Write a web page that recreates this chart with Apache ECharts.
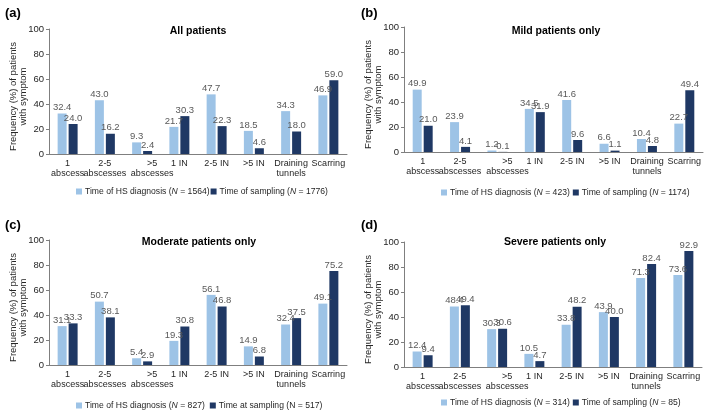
<!DOCTYPE html>
<html>
<head>
<meta charset="utf-8">
<script src="https://cdn.jsdelivr.net/npm/echarts@6/dist/echarts.min.js"></script>
<style>html,body{margin:0;padding:0;background:#fff}#c{width:709px;height:414px}</style>
</head>
<body>
<div id="c"></div>
<script>
var categories = ['1\nabscess', '2-5\nabscesses', '>5\nabscesses', '1 IN', '2-5 IN', '>5 IN', 'Draining\ntunnels', 'Scarring'];
var yTicks = [0, 20, 40, 60, 80, 100];

var panelLabels = ['(a)', '(b)', '(c)', '(d)'];
var panelTitles = ['All patients', 'Mild patients only', 'Moderate patients only', 'Severe patients only'];

var diagNames = ['Time of HS diagnosis (N = 1564)', 'Time of HS diagnosis (N = 423)', 'Time of HS diagnosis (N = 827)', 'Time of HS diagnosis (N = 314)'];
var sampNames = ['Time of sampling (N = 1776)', 'Time of sampling (N = 1174)', 'Time at sampling (N = 517)', 'Time of sampling (N = 85)'];
var nonItalicNames = ['Time at sampling (N = 517)'];

var allDiag = [32.4, 43.0, 9.3, 21.7, 47.7, 18.5, 34.3, 46.9];
var allSamp = [24.0, 16.2, 2.4, 30.3, 22.3, 4.6, 18.0, 59.0];
var mildDiag = [49.9, 23.9, 1.2, 34.5, 41.6, 6.6, 10.4, 22.7];
var mildSamp = [21.0, 4.1, 0.1, 31.9, 9.6, 1.1, 4.8, 49.4];
var modDiag = [31.1, 50.7, 5.4, 19.3, 56.1, 14.9, 32.4, 49.1];
var modSamp = [33.3, 38.1, 2.9, 30.8, 46.8, 6.8, 37.5, 75.2];
var sevDiag = [12.4, 48.4, 30.3, 10.5, 33.8, 43.9, 71.3, 73.6];
var sevSamp = [9.4, 49.4, 30.6, 4.7, 48.2, 40.0, 82.4, 92.9];

var diagSeries = [allDiag, mildDiag, modDiag, sevDiag];
var sampSeries = [allSamp, mildSamp, modSamp, sevSamp];

var FONT = '"Liberation Sans", Arial, sans-serif';
var LIGHT = '#9DC3E6';
var DARK = '#1F3864';

var grids = [
  {left: 49, top: 29, width: 298, height: 125},
  {left: 404, top: 27, width: 299, height: 125},
  {left: 49, top: 240, width: 298, height: 125},
  {left: 404, top: 242, width: 298, height: 125}
];
var legendPos = [
  {left: 76, top: 187, gap: 1},
  {left: 441, top: 188, gap: 3},
  {left: 76, top: 401, gap: 5},
  {left: 441, top: 398, gap: 3}
];
var labelPos = [[5, 13], [361, 13], [5, 225], [361, 225]];
var titlePos = [[198, 31], [556, 31], [199, 242], [555, 242]];

var xAxes = [], yAxes = [], series = [], legends = [], graphics = [];
for (var i = 0; i < 4; i++) {
  xAxes.push({
    type: 'category', gridIndex: i, data: categories,
    axisLine: {lineStyle: {color: '#7f7f7f', width: 1}},
    axisTick: {show: false},
    axisLabel: {
      interval: 0, margin: 4, fontFamily: FONT, fontSize: 9, color: '#262626', lineHeight: 10.5,
      formatter: function (v) {
        var lines = v.split('\n');
        var key = (v === categories[2]) ? 's' : 'n';
        return lines.map(function (l) { return '{' + key + '|' + l + '}'; }).join('\n');
      },
      rich: {
        n: {fontFamily: FONT, fontSize: 9, color: '#262626', lineHeight: 10.5},
        s: {fontFamily: FONT, fontSize: 9, color: '#262626', lineHeight: 10.5, padding: [0, 0, 0, 20]}
      }
    }
  });
  yAxes.push({
    type: 'value', gridIndex: i, min: yTicks[0], max: yTicks[yTicks.length - 1], interval: 20,
    name: 'Frequency (%) of patients\nwith symptom', nameLocation: 'middle', nameGap: 20,
    nameMoveOverlap: false,
    nameTextStyle: {fontFamily: FONT, fontSize: 9.5, color: '#262626', lineHeight: 10.5, padding: [0, 10, 0, 0]},
    axisLine: {show: true, lineStyle: {color: '#7f7f7f', width: 1}},
    axisTick: {show: true, length: 3, lineStyle: {color: '#7f7f7f'}},
    splitLine: {show: false},
    axisLabel: {margin: 5, fontFamily: FONT, fontSize: 9.5, color: '#262626'}
  });
  var lbl = {
    show: true, position: 'top', distance: 1, fontFamily: FONT, fontSize: 9.5, color: '#595959',
    formatter: function (p) { return p.value.toFixed(1); }
  };
  series.push({
    name: diagNames[i], type: 'bar', xAxisIndex: i, yAxisIndex: i, data: diagSeries[i],
    barWidth: 9, barGap: '22%', itemStyle: {color: LIGHT}, label: lbl, silent: true
  });
  series.push({
    name: sampNames[i], type: 'bar', xAxisIndex: i, yAxisIndex: i, data: sampSeries[i],
    barWidth: 9, barGap: '22%', itemStyle: {color: DARK}, label: lbl, silent: true
  });
  legends.push({
    data: [diagNames[i], sampNames[i]], left: legendPos[i].left, top: legendPos[i].top,
    width: 300, orient: 'horizontal',
    itemWidth: 6, itemHeight: 6, itemGap: legendPos[i].gap, padding: 0,
    icon: 'rect', selectedMode: false,
    textStyle: {
      fontFamily: FONT, fontSize: 8.6, color: '#262626', padding: [0, 0, 0, -2],
      rich: {
        t: {fontFamily: FONT, fontSize: 8.6, color: '#262626'},
        i: {fontFamily: FONT, fontSize: 8.6, color: '#262626', fontStyle: 'italic'}
      }
    },
    formatter: function (name) {
      if (nonItalicNames.indexOf(name) >= 0) return '{t|' + name + '}';
      var k = name.indexOf('(N');
      return '{t|' + name.slice(0, k + 1) + '}{i|N}{t|' + name.slice(k + 2) + '}';
    }
  });
  graphics.push({
    type: 'text', x: labelPos[i][0], y: labelPos[i][1],
    style: {text: panelLabels[i], fontFamily: FONT, fontSize: 13, fontWeight: 'bold', fill: '#000', textVerticalAlign: 'middle'}
  });
  graphics.push({
    type: 'text', x: titlePos[i][0], y: titlePos[i][1],
    style: {text: panelTitles[i], fontFamily: FONT, fontSize: 10.5, fontWeight: 'bold', fill: '#000', textAlign: 'center', textVerticalAlign: 'middle'}
  });
}

var chart = echarts.init(document.getElementById('c'), null, {renderer: 'canvas'});
chart.setOption({
  animation: false,
  backgroundColor: '#fff',
  grid: grids,
  xAxis: xAxes,
  yAxis: yAxes,
  series: series,
  legend: legends,
  graphic: graphics
});
</script>
</body>
</html>
